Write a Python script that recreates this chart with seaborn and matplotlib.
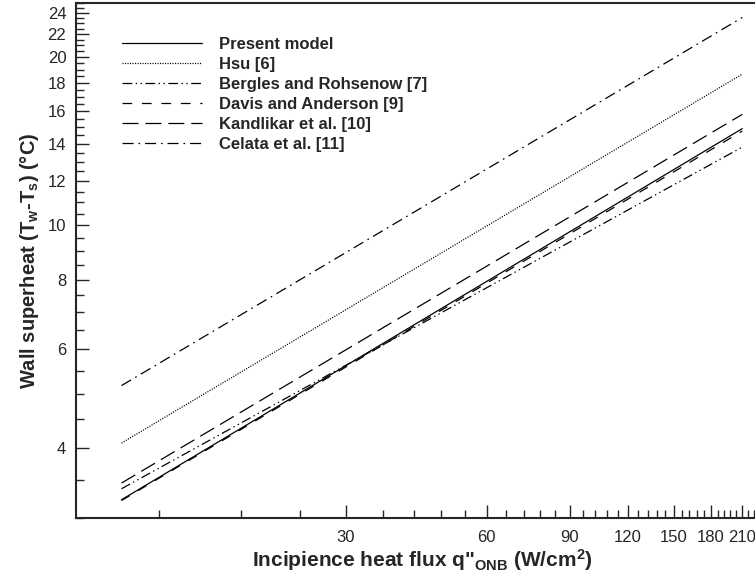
import matplotlib
matplotlib.use("Agg")
import matplotlib.pyplot as plt
import numpy as np
import seaborn as sns
from matplotlib.ticker import FixedLocator, NullFormatter, FixedFormatter

# heat flux range of the curves (W/cm2)
q_flux = [10, 210]

# wall superheat at the two ends (degC)
present_model = [3.23, 14.90]
hsu = [4.08, 18.65]
bergles_rohsenow = [3.38, 13.81]
davis_anderson = [3.22, 14.75]
kandlikar = [3.46, 15.80]
celata = [5.17, 23.55]

labels = [
    "Present model",
    "Hsu [6]",
    "Bergles and Rohsenow [7]",
    "Davis and Anderson [9]",
    "Kandlikar et al. [10]",
    "Celata et al. [11]",
]
series = [present_model, hsu, bergles_rohsenow, davis_anderson, kandlikar, celata]

x_major = [30, 60, 90, 120, 150, 180, 210]
y_major = [4, 6, 8, 10, 12, 14, 16, 18, 20, 22, 24]

sns.set_style("ticks")
plt.rcParams["font.family"] = ["Liberation Sans", "DejaVu Sans"]
plt.rcParams["mathtext.fontset"] = "custom"
plt.rcParams["mathtext.rm"] = "Liberation Sans"
plt.rcParams["mathtext.bf"] = "Liberation Sans:bold"
plt.rcParams["mathtext.default"] = "bf"
plt.rcParams["lines.scale_dashes"] = False

# line styles in points
styles = [
    "-",
    (0, (0.8, 1.0)),
    (0, (7, 2.5, 1, 2.5, 1, 2.5)),
    (0, (7, 7)),
    (0, (11.5, 5)),
    (0, (8, 3.5, 1.2, 3.5)),
]

fig = plt.figure(figsize=(7.55, 5.76), dpi=100)
# right part of the axes runs past the image edge, as in the original
ax = fig.add_axes([76 / 755, 58.3 / 576, 693.5 / 755, 514.7 / 576])

for vals, lab, ls in zip(series, labels, styles):
    sns.lineplot(x=q_flux, y=vals, ax=ax, color="black", linewidth=0.9,
                 linestyle=ls, label=lab)

ax.set_xscale("log")
ax.set_yscale("log")
ax.set_xlim(8, 240)
ax.set_ylim(3, 25)

ax.xaxis.set_major_locator(FixedLocator(x_major))
ax.xaxis.set_major_formatter(FixedFormatter([str(v) for v in x_major]))
ax.xaxis.set_minor_locator(FixedLocator([v for v in range(12, 241, 6) if v not in x_major]))
ax.xaxis.set_minor_formatter(NullFormatter())
ax.yaxis.set_major_locator(FixedLocator(y_major))
ax.yaxis.set_major_formatter(FixedFormatter([str(v) for v in y_major]))
ax.yaxis.set_minor_locator(FixedLocator([v for v in np.arange(3, 25.01, 0.5) if v not in y_major]))
ax.yaxis.set_minor_formatter(NullFormatter())

ax.tick_params(which="both", direction="in", width=1.0, labelsize=12)
ax.tick_params(which="major", length=9.5)
ax.tick_params(which="minor", length=5.8)
ax.tick_params(axis="x", pad=8.5)
ax.tick_params(axis="y", pad=7)
for side in ["left", "bottom", "top"]:
    ax.spines[side].set_linewidth(1.5)
ax.spines["right"].set_visible(False)

ax.set_xlabel('Incipience heat flux q"$_{ONB}$ (W/cm$^2$)', fontsize=15, fontweight="bold", labelpad=2)
ax.set_ylabel("Wall superheat (T$_w$-T$_s$) (°C)", fontsize=14.5, fontweight="bold", labelpad=5)

leg = ax.legend(loc="upper left", bbox_to_anchor=(0.0454, 0.963), frameon=False,
                handlelength=4.8, handletextpad=1.0, labelspacing=0.3,
                prop={"weight": "bold", "size": 12})

fig.savefig("out.png", dpi=100)
